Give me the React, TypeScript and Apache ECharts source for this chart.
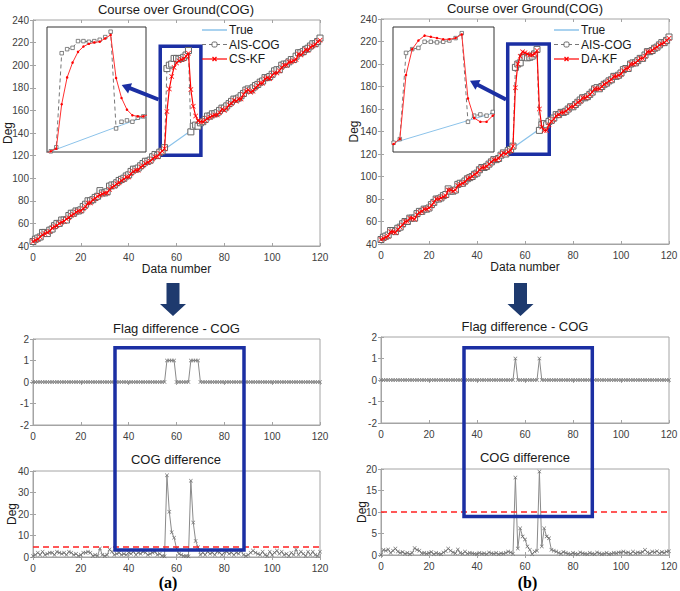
import { useEffect, useRef } from 'react';
import * as echarts from 'echarts';

const FONT = '"Liberation Sans", Arial, sans-serif';

// ---------- data ----------
const trueX = [0, 20, 40, 53, 67, 80, 100, 120];
const trueY = [44, 73.5, 103, 122.5, 143.5, 162.5, 192, 222];

const aisCOG = [
  44, 46, 47, 48, 52, 52, 51, 54, 55, 58,
  60, 60, 63, 63, 63, 67, 69, 69, 71, 71,
  72, 75, 77, 80, 80, 81, 83, 84, 89, 87,
  87, 88, 93, 94, 94, 96, 98, 99, 100, 102,
  103, 106, 108, 108, 109, 111, 113, 115, 115, 116,
  119, 121, 120, 123, 124, 127, 197, 200, 201, 206,
  206, 205.5, 206, 207, 209, 213, 141, 146, 147, 146,
  149, 150, 152, 155, 155, 157, 157, 158, 160, 162,
  162, 164, 166, 168, 170, 170, 171, 173, 175, 178,
  179, 178, 180, 182, 183, 185, 186, 189, 189, 190,
  192, 195, 196, 196, 200, 201, 201, 203, 205, 205,
  208, 211, 211, 212, 214, 215, 217, 219, 219, 221,
  224,
];

const csKF = [
  44, 45, 46, 48, 50, 51, 52, 53, 56, 57,
  58, 60, 61, 62, 64, 65, 67, 68, 70, 71,
  71, 73, 75, 78, 78, 81, 82, 84, 85, 86,
  87, 87, 90, 92, 93, 95, 96, 98, 99, 101,
  101, 104, 106, 107, 107, 110, 111, 113, 114, 115,
  117, 119, 119, 122, 124, 126, 159, 179, 190, 198,
  202, 204, 205, 205.6, 208, 210.6, 178.5, 163.7, 155, 150.8,
  150, 150, 151, 153, 154, 155, 156, 156, 158, 161,
  160, 162, 165, 166, 169, 168, 170, 170, 174, 177,
  178, 176, 177, 180, 182, 184, 184, 188, 189, 188,
  191, 193, 193, 195, 198, 200, 200, 203, 203, 204,
  205, 210, 209, 211, 214, 213, 216, 217, 218, 221,
  222,
];

const daKF = [
  44, 45, 46, 47, 51, 51, 50, 53, 55, 57,
  60, 60, 63, 63, 62, 66, 68, 69, 71, 71,
  72, 74, 77, 80, 80, 81, 82, 83, 88, 88,
  87, 88, 92, 93, 94, 95, 98, 99, 100, 102,
  103, 106, 108, 108, 109, 111, 113, 115, 115, 116,
  119, 121, 120, 122, 123, 127, 179, 200, 207, 211,
  210, 209, 208, 208, 209, 212, 160, 144, 141, 141,
  146, 149, 151, 154, 155, 157, 157, 158, 160, 162,
  162, 164, 166, 167, 170, 170, 171, 173, 175, 178,
  178, 178, 180, 182, 183, 185, 186, 189, 189, 190,
  191, 194, 196, 196, 200, 200, 201, 203, 205, 205,
  207, 211, 211, 212, 214, 215, 217, 218, 219, 221,
  223,
];

const flagOnesCS = [56, 57, 58, 59, 66, 67, 68, 69];
const flagOnesDA = [56, 66];

const diffCS = [
  0.5, 1, 2, 1, 2.5, 1, 1.5, 2, 2, 1,
  2.5, 2, 1.5, 2, 1, 2.5, 2, 1, 1.5, 0.5,
  1, 2, 2, 2.5, 2, 0.5, 1, 0.5, 4, 1,
  0.5, 1, 3.5, 2.5, 1, 1.5, 2, 1, 1.5, 1,
  2, 1.5, 2.5, 1, 2, 1.5, 2.5, 2, 1, 1.5,
  2, 2.5, 1, 1.5, 0.5, 0.3, 38, 21, 11.5, 9,
  4, 1.5, 1, 0.5, 0.5, 0.3, 35.5, 16, 7.5, 4.5,
  1, 2, 1, 2.5, 1.5, 2, 1, 2.5, 2, 1,
  2, 2.5, 1.5, 2, 1, 2, 1.5, 3, 1, 0.5,
  1, 2, 3, 2, 1.5, 1, 2.5, 1, 0.5, 2.5,
  1, 2, 3, 1.5, 2.5, 1, 1.5, 0.5, 2, 1,
  3.5, 1, 2.5, 1.5, 0.5, 2.5, 1, 2.5, 1, 0.5,
  2.5,
];

const diffDA = [
  0, 1.2, 1, 1.3, 0.5, 1, 1.5, 0.8, 0.5, 0.7,
  0.3, 0.5, 0.2, 0.5, 1.6, 1.2, 1, 0.4, 0.5, 0.3,
  0.5, 0.7, 0.2, 0.5, 0.3, 0.2, 0.6, 0.9, 1.5, 1,
  0.6, 0.4, 1.3, 0.5, 0.3, 0.8, 0.3, 0.5, 0.4, 0.3,
  0.2, 0.5, 0.3, 0.4, 0.2, 0.6, 0.4, 0.3, 0.5, 0.2,
  0.4, 0.3, 0.5, 0.8, 0.6, 0.3, 18, 1.5, 6.2, 4.3,
  3.6, 2, 1.2, 0.2, 0.8, 1, 19.4, 2, 6.2, 4.3,
  3.9, 1.2, 1, 0.8, 0.5, 0.3, 0.7, 0.5, 0.3, 0.2,
  0.5, 0.3, 0.2, 0.6, 0.4, 0.3, 0.2, 0.5, 0.3, 0.2,
  0.6, 0.4, 0.2, 0.3, 0.5, 0.2, 0.3, 0.5, 0.4, 0.6,
  0.6, 0.8, 0.5, 0.6, 0.3, 0.8, 0.4, 0.6, 0.5, 0.7,
  1.2, 0.6, 0.4, 0.8, 0.6, 0.9, 0.4, 0.7, 0.5, 0.8,
  0.9,
];

const thresholdCS = 5;
const thresholdDA = 10;

const legendLeft = ['True', 'AIS-COG', 'CS-KF'];
const legendRight = ['True', 'AIS-COG', 'DA-KF'];

// ---------- styles ----------
const AX = '#a4a4a4';
const BLUE = '#1b2fa3';
const NAVY = '#1e3a6e';
const TRUE_C = '#8cc3ea';
const RED = '#ff0000';
const GRAY = '#777777';
const X_SYMBOL = 'path://M0,1L1,0L5,4L9,0L10,1L6,5L10,9L9,10L5,6L1,10L0,9L4,5Z';

const toPts = (ys: number[]) => ys.map((v, i) => [i, v]);
const truePts = trueX.map((x, i) => [x, trueY[i]]);
const flagPts = (ones: number[]) => aisCOG.map((_, i) => [i, ones.includes(i) ? 1 : 0]);

function mainAxisX(gridIndex: number, name?: string) {
  return {
    type: 'value', gridIndex, min: 0, max: 120, interval: 20,
    axisLine: { show: true, onZero: false, lineStyle: { color: AX, width: 1 } },
    axisTick: { show: true, inside: true, length: 3, lineStyle: { color: AX } },
    axisLabel: { color: '#404040', fontSize: 10, fontFamily: FONT, margin: 6 },
    splitLine: { show: false },
    name, nameLocation: 'middle', nameGap: 17, nameMoveOverlap: false,
    nameTextStyle: { fontSize: 12, color: '#1a1a1a', fontFamily: FONT },
  };
}
function mainAxisY(gridIndex: number, min: number, max: number, interval: number, name?: string, nameGap = 22) {
  return {
    type: 'value', gridIndex, min, max, interval,
    axisLine: { show: true, onZero: false, lineStyle: { color: AX, width: 1 } },
    axisTick: { show: true, inside: true, length: 3, lineStyle: { color: AX } },
    axisLabel: { color: '#404040', fontSize: 10, fontFamily: FONT, margin: 4 },
    splitLine: { show: false },
    name, nameLocation: 'middle', nameGap, nameMoveOverlap: false,
    nameTextStyle: { fontSize: 12, color: '#1a1a1a', fontFamily: FONT },
  };
}
// mirror axes: ticks on top / right edges (MATLAB box style)
function mirrorX(gridIndex: number) {
  return {
    type: 'value', gridIndex, min: 0, max: 120, interval: 20, position: 'top',
    axisLine: { show: false }, axisLabel: { show: false }, splitLine: { show: false },
    axisTick: { show: true, inside: true, length: 3, lineStyle: { color: AX } },
  };
}
function mirrorY(gridIndex: number, min: number, max: number, interval: number) {
  return {
    type: 'value', gridIndex, min, max, interval, position: 'right',
    axisLine: { show: false }, axisLabel: { show: false }, splitLine: { show: false },
    axisTick: { show: true, inside: true, length: 3, lineStyle: { color: AX } },
  };
}
function hiddenAxis(gridIndex: number, min: number, max: number) {
  return { type: 'value', gridIndex, min, max, show: false, splitLine: { show: false } };
}

function arrowShapes(tail: number[], tip: number[], w: number, hl: number, hw: number, color: string) {
  const dx = tip[0] - tail[0];
  const dy = tip[1] - tail[1];
  const L = Math.hypot(dx, dy);
  const ux = dx / L, uy = dy / L;
  const nx = -uy, ny = ux;
  const bx = tip[0] - ux * hl, by = tip[1] - uy * hl;
  return [
    { type: 'line', z: 100, shape: { x1: tail[0], y1: tail[1], x2: bx + ux * 1, y2: by + uy * 1 }, style: { stroke: color, lineWidth: w } },
    { type: 'polygon', z: 100, shape: { points: [[tip[0], tip[1]], [bx + nx * hw, by + ny * hw], [bx - nx * hw, by - ny * hw]] }, style: { fill: color } },
  ];
}
function downArrow(cx: number) {
  return {
    type: 'polygon', z: 100,
    shape: { points: [[cx - 6.5, 283], [cx + 6.5, 283], [cx + 6.5, 304], [cx + 13, 304], [cx, 316], [cx - 13, 304], [cx - 6.5, 304]] },
    style: { fill: NAVY },
  };
}
function label(text: string, x: number, y: number, size = 13, extra: any = {}) {
  return {
    type: 'text', z: 100, x, y,
    style: { text, align: 'center', verticalAlign: 'middle', fontSize: size, fontFamily: FONT, fill: '#1a1a1a', ...extra },
  };
}
function rectBox(x1: number, y1: number, x2: number, y2: number) {
  return {
    type: 'rect', z: 100, shape: { x: x1, y: y1, width: x2 - x1, height: y2 - y1 },
    style: { fill: 'none', stroke: BLUE, lineWidth: 3.5 },
  };
}
function legendGraphic(x0: number, names: string[]) {
  const rows = [30, 44.5, 59];
  const els: any[] = [];
  els.push({ type: 'line', z: 100, shape: { x1: x0, y1: rows[0], x2: x0 + 25, y2: rows[0] }, style: { stroke: TRUE_C, lineWidth: 1.5 } });
  els.push({ type: 'line', z: 100, shape: { x1: x0, y1: rows[1], x2: x0 + 25, y2: rows[1] }, style: { stroke: GRAY, lineWidth: 1, lineDash: [4, 3] } });
  els.push({ type: 'rect', z: 101, shape: { x: x0 + 10, y: rows[1] - 2.5, width: 5, height: 5, r: 1.5 }, style: { fill: '#fff', stroke: '#666', lineWidth: 1 } });
  els.push({ type: 'line', z: 100, shape: { x1: x0, y1: rows[2], x2: x0 + 25, y2: rows[2] }, style: { stroke: RED, lineWidth: 1.2 } });
  els.push({ type: 'line', z: 101, shape: { x1: x0 + 10.5, y1: rows[2] - 2, x2: x0 + 14.5, y2: rows[2] + 2 }, style: { stroke: RED, lineWidth: 1.2 } });
  els.push({ type: 'line', z: 101, shape: { x1: x0 + 10.5, y1: rows[2] + 2, x2: x0 + 14.5, y2: rows[2] - 2 }, style: { stroke: RED, lineWidth: 1.2 } });
  names.forEach((n, i) => {
    els.push({ type: 'text', z: 100, x: x0 + 27, y: rows[i],
      style: { text: n, align: 'left', verticalAlign: 'middle', fontSize: 12, fontFamily: FONT, fill: '#1a1a1a' } });
  });
  return els;
}

function topSeries(xi: number, kf: number[], kfName: string, box: number[][]) {
  return [
    { name: 'True', type: 'line', xAxisIndex: xi, yAxisIndex: xi, data: truePts, symbol: 'none',
      lineStyle: { color: TRUE_C, width: 1.2 }, itemStyle: { color: TRUE_C }, z: 2 },
    { name: 'AIS-COG', type: 'line', xAxisIndex: xi, yAxisIndex: xi, data: toPts(aisCOG),
      symbol: 'rect', symbolSize: 6, showAllSymbol: true,
      itemStyle: { color: '#fff', borderColor: '#666', borderWidth: 1 },
      lineStyle: { color: GRAY, width: 1, type: [4, 3] }, z: 3,
      markArea: {
        silent: true, label: { show: false },
        itemStyle: { color: 'rgba(0,0,0,0)', borderColor: BLUE, borderWidth: 3.5 },
        data: [[{ coord: box[0] }, { coord: box[1] }]],
      } },
    { name: kfName, type: 'line', xAxisIndex: xi, yAxisIndex: xi, data: toPts(kf),
      symbol: X_SYMBOL, symbolSize: 5, showAllSymbol: true,
      itemStyle: { color: RED }, lineStyle: { color: RED, width: 1.2 }, z: 4 },
  ];
}
function insetSeries(idx: number, kf: number[], tag: string) {
  return [
    { name: 't' + tag, type: 'line', xAxisIndex: idx, yAxisIndex: idx, data: truePts, symbol: 'none',
      lineStyle: { color: TRUE_C, width: 1 }, z: 6, clip: true },
    { name: 'a' + tag, type: 'line', xAxisIndex: idx, yAxisIndex: idx, data: toPts(aisCOG),
      symbol: 'rect', symbolSize: 3.5, showAllSymbol: true,
      itemStyle: { color: '#fff', borderColor: '#666', borderWidth: 0.8 },
      lineStyle: { color: GRAY, width: 1, type: [4, 3] }, z: 7, clip: true },
    { name: 'k' + tag, type: 'line', xAxisIndex: idx, yAxisIndex: idx, data: toPts(kf),
      symbol: 'circle', symbolSize: 2.5, showAllSymbol: true,
      itemStyle: { color: RED }, lineStyle: { color: '#ff3030', width: 1 }, z: 8, clip: true },
  ];
}
function flagSeries(idx: number, ones: number[]) {
  return {
    type: 'line', xAxisIndex: idx, yAxisIndex: idx, data: flagPts(ones),
    symbol: X_SYMBOL, symbolSize: 4, showAllSymbol: true,
    itemStyle: { color: '#7a7a7a' }, lineStyle: { color: '#8a8a8a', width: 1 },
  };
}
function diffSeries(idx: number, d: number[], thr: number) {
  return {
    type: 'line', xAxisIndex: idx, yAxisIndex: idx, data: toPts(d),
    symbol: X_SYMBOL, symbolSize: 4, showAllSymbol: true,
    itemStyle: { color: '#6a6a6a' }, lineStyle: { color: '#8a8a8a', width: 1 },
    markLine: {
      silent: true, symbol: ['none', 'none'], label: { show: false },
      lineStyle: { color: '#ff2020', type: [6, 4], width: 1.6 },
      data: [{ yAxis: thr }],
    },
  };
}

function buildOption() {
  const g = (left: number, top: number, width: number, height: number, inset = false) => ({
    left, top, width, height, show: true, containLabel: false, outerBoundsMode: 'none',
    borderColor: inset ? '#333' : AX, borderWidth: 1,
    backgroundColor: inset ? '#fff' : 'transparent',
  });
  const serif = { fontFamily: '"Liberation Serif", "Times New Roman", serif', fontWeight: 'bold', fill: '#000' };
  return {
    animation: false,
    backgroundColor: '#fff',
    textStyle: { fontFamily: FONT },
    grid: [
      g(33, 20, 287, 226),
      g(381, 19, 288, 225),
      g(33, 339, 287, 86),
      g(33, 471, 287, 86),
      g(381, 337, 288, 86),
      g(381, 469, 288, 86),
      g(47, 27, 99, 125, true),
      g(393, 27, 101, 125, true),
    ],
    xAxis: [
      mainAxisX(0, 'Data number'),
      mainAxisX(1, 'Data number'),
      mainAxisX(2),
      mainAxisX(3),
      mainAxisX(4),
      mainAxisX(5),
      hiddenAxis(6, 53.3, 71.5),
      hiddenAxis(7, 53.9, 70.2),
      mirrorX(0), mirrorX(1), mirrorX(2), mirrorX(3), mirrorX(4), mirrorX(5),
    ],
    yAxis: [
      mainAxisY(0, 40, 240, 20, 'Deg', 19),
      mainAxisY(1, 40, 240, 20, 'Deg', 21),
      mainAxisY(2, -2, 2, 1),
      mainAxisY(3, 0, 40, 10, 'Deg', 15),
      mainAxisY(4, -2, 2, 1),
      mainAxisY(5, 0, 20, 5, 'Deg', 13),
      hiddenAxis(6, 123.5, 216.5),
      hiddenAxis(7, 116.5, 218),
      mirrorY(0, 40, 240, 20), mirrorY(1, 40, 240, 20),
      mirrorY(2, -2, 2, 1), mirrorY(3, 0, 40, 10),
      mirrorY(4, -2, 2, 1), mirrorY(5, 0, 20, 5),
    ],
    series: [
      ...topSeries(0, csKF, 'CS-KF', [[53.2, 216.7], [70.2, 120.3]]),
      ...topSeries(1, daKF, 'DA-KF', [[52.8, 217.8], [70.1, 119.7]]),
      flagSeries(2, flagOnesCS),
      diffSeries(3, diffCS, thresholdCS),
      flagSeries(4, flagOnesDA),
      diffSeries(5, diffDA, thresholdDA),
      ...insetSeries(6, csKF, '1'),
      ...insetSeries(7, daKF, '2'),
    ],
    graphic: [
      label('Course over Ground(COG)', 176, 9),
      label('Course over Ground(COG)', 525, 8.5),
      label('Flag difference - COG', 176.5, 328.5),
      label('Flag difference - COG', 525, 326.5),
      label('COG difference', 176, 459.5),
      label('COG difference', 525, 457.5),
      label('(a)', 168, 582.5, 16, serif),
      label('(b)', 527.5, 582.5, 16, serif),
      downArrow(173),
      downArrow(520.5),
      rectBox(115, 347.7, 244, 550),
      rectBox(464, 347.7, 592.3, 516.5),
      ...arrowShapes([158.5, 99.5], [121.7, 85], 4, 9, 5.5, BLUE),
      ...arrowShapes([506, 99.5], [470, 80.7], 4, 9, 5.5, BLUE),
      ...legendGraphic(202, legendLeft),
      ...legendGraphic(554, legendRight),
    ],
  };
}

export default function App() {
  const ref = useRef<HTMLDivElement>(null);
  useEffect(() => {
    const chart = echarts.init(ref.current!, undefined, { renderer: 'svg' });
    chart.setOption(buildOption() as any);
    return () => chart.dispose();
  }, []);
  return (
    <div
      ref={ref}
      style={{ position: 'absolute', left: 0, top: 0, width: 680, height: 591, background: '#fff' }}
    />
  );
}
